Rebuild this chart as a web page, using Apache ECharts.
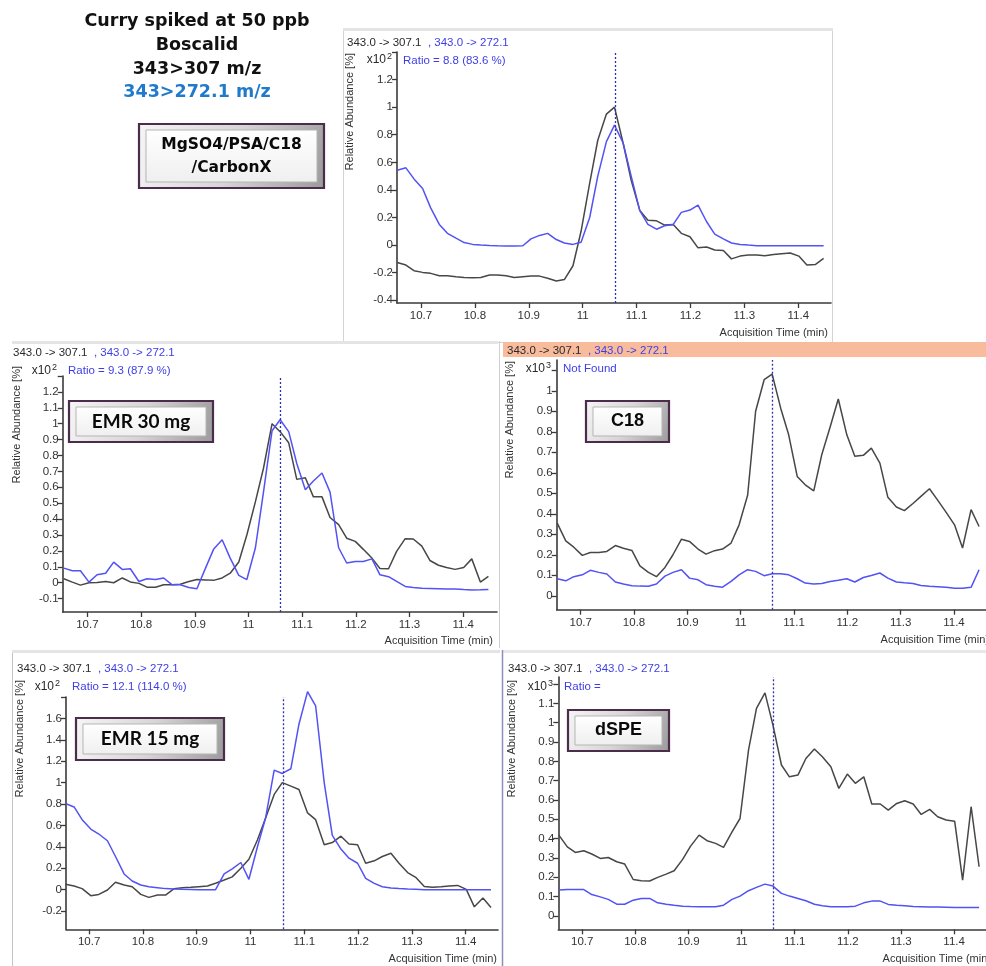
<!DOCTYPE html>
<html><head><meta charset="utf-8">
<script src="https://cdn.jsdelivr.net/npm/echarts@6/dist/echarts.min.js"></script>
<style>html,body{margin:0;padding:0;background:#fff}#c{width:986px;height:966px}</style>
</head><body><div id="c"></div>
<script>
// acquisition times (min)
const times = [10.656,10.672,10.687,10.703,10.718,10.734,10.749,10.765,10.780,10.796,10.811,10.827,10.842,10.858,10.873,10.889,10.904,10.920,10.935,10.951,10.966,10.982,10.997,11.013,11.028,11.044,11.059,11.075,11.090,11.106,11.121,11.137,11.152,11.168,11.183,11.199,11.214,11.230,11.245,11.261,11.276,11.292,11.307,11.323,11.338,11.354,11.369,11.385,11.401,11.416,11.432,11.447];

// MgSO4/PSA/C18/CarbonX (x10^2)
const topBlack = [-0.126,-0.145,-0.186,-0.198,-0.205,-0.222,-0.222,-0.229,-0.235,-0.237,-0.235,-0.217,-0.217,-0.222,-0.235,-0.229,-0.225,-0.225,-0.24,-0.26,-0.25,-0.15,0.10,0.45,0.76,0.95,1.0,0.74,0.47,0.25,0.18,0.176,0.145,0.15,0.085,0.06,-0.02,-0.014,-0.036,-0.039,-0.1,-0.08,-0.072,-0.072,-0.077,-0.068,-0.063,-0.058,-0.08,-0.145,-0.14,-0.097];
const topBlue = [0.543,0.56,0.48,0.41,0.27,0.15,0.085,0.05,0.018,0.005,0.0,-0.003,-0.005,-0.007,-0.007,-0.005,0.045,0.07,0.085,0.04,0.015,0.005,0.02,0.2,0.5,0.75,0.87,0.74,0.5,0.25,0.15,0.115,0.14,0.15,0.237,0.254,0.29,0.169,0.08,0.045,0.015,0.005,0.0,-0.005,-0.005,-0.005,-0.005,-0.005,-0.005,-0.005,-0.005,-0.005];

// EMR 30 mg (x10^2)
const emr30Black = [0.025,0.004,-0.015,0.0,0.002,0.008,0.0,0.03,0.005,-0.004,-0.028,-0.028,-0.013,-0.013,-0.01,0.008,0.02,0.018,0.015,0.03,0.06,0.13,0.30,0.51,0.72,1.0,0.95,0.88,0.65,0.66,0.54,0.54,0.41,0.365,0.28,0.26,0.21,0.155,0.09,0.088,0.197,0.277,0.275,0.23,0.14,0.11,0.096,0.084,0.096,0.15,0.004,0.04];
const emr30Blue = [0.092,0.075,0.075,0.004,0.05,0.06,0.13,0.084,0.088,0.008,0.025,0.02,0.03,-0.013,-0.013,-0.03,-0.038,0.092,0.21,0.27,0.155,0.046,0.02,0.22,0.57,0.956,1.025,0.95,0.75,0.585,0.64,0.69,0.57,0.22,0.124,0.134,0.134,0.15,0.05,0.038,0.008,-0.023,-0.03,-0.034,-0.036,-0.038,-0.04,-0.04,-0.043,-0.045,-0.044,-0.042];

// C18 (x10^3)
const c18Black = [0.354,0.268,0.237,0.197,0.211,0.211,0.216,0.245,0.232,0.221,0.146,0.114,0.093,0.138,0.2,0.276,0.265,0.228,0.203,0.22,0.228,0.257,0.346,0.49,0.9,1.054,1.081,0.915,0.785,0.582,0.541,0.512,0.688,0.826,0.96,0.785,0.68,0.685,0.72,0.647,0.48,0.433,0.415,0.45,0.485,0.522,0.468,0.408,0.346,0.233,0.42,0.338];
const c18Blue = [0.083,0.073,0.093,0.102,0.124,0.114,0.106,0.067,0.057,0.049,0.047,0.046,0.057,0.096,0.114,0.127,0.086,0.078,0.054,0.046,0.042,0.07,0.102,0.127,0.119,0.098,0.107,0.107,0.102,0.083,0.062,0.057,0.06,0.07,0.076,0.083,0.067,0.089,0.099,0.111,0.086,0.067,0.063,0.06,0.05,0.046,0.044,0.041,0.037,0.037,0.041,0.127];

// EMR 15 mg (x10^2)
const emr15Black = [0.05,0.034,0.01,-0.056,-0.044,-0.003,0.069,0.044,0.028,-0.044,-0.072,-0.05,-0.05,0.01,0.019,0.022,0.028,0.034,0.06,0.09,0.12,0.2,0.285,0.466,0.67,0.89,1.0,0.967,0.936,0.717,0.654,0.42,0.44,0.5,0.426,0.42,0.247,0.27,0.31,0.34,0.247,0.16,0.116,0.03,0.022,0.028,0.034,0.04,0.003,-0.16,-0.078,-0.166];
const emr15Blue = [0.805,0.773,0.654,0.566,0.52,0.457,0.31,0.147,0.081,0.044,0.028,0.019,0.01,0.006,0.003,0.002,0.0,0.0,0.0,0.147,0.194,0.254,0.097,0.404,0.67,1.117,1.086,1.13,1.546,1.85,1.718,0.998,0.507,0.379,0.294,0.247,0.106,0.059,0.028,0.016,0.01,0.006,0.003,0.0,0.0,0.0,0.0,0.0,0.0,0.0,0.0,0.0];

// dSPE (x10^3)
const dspeBlack = [0.418,0.357,0.328,0.337,0.32,0.297,0.302,0.28,0.268,0.188,0.181,0.18,0.199,0.216,0.233,0.292,0.361,0.418,0.389,0.375,0.354,0.435,0.504,0.858,1.074,1.155,0.988,0.781,0.72,0.729,0.815,0.864,0.824,0.772,0.66,0.734,0.686,0.72,0.579,0.579,0.547,0.582,0.596,0.579,0.525,0.551,0.513,0.496,0.49,0.185,0.565,0.254];
const dspeBlue = [0.133,0.136,0.136,0.136,0.11,0.098,0.085,0.06,0.06,0.081,0.09,0.09,0.067,0.06,0.055,0.05,0.048,0.047,0.047,0.047,0.055,0.085,0.102,0.13,0.147,0.164,0.154,0.116,0.102,0.09,0.078,0.06,0.052,0.047,0.047,0.047,0.05,0.067,0.076,0.076,0.059,0.055,0.052,0.048,0.047,0.046,0.045,0.044,0.043,0.043,0.043,0.043];

// tick values
const xTickValues = [10.7,10.8,10.9,11,11.1,11.2,11.3,11.4];
const topYTicks = [-0.4,-0.2,0,0.2,0.4,0.6,0.8,1,1.2,1.4];
const emr30YTicks = [-0.1,0,0.1,0.2,0.3,0.4,0.5,0.6,0.7,0.8,0.9,1,1.1,1.2,1.3];
const c18YTicks = [0,0.1,0.2,0.3,0.4,0.5,0.6,0.7,0.8,0.9,1,1.1];
const emr15YTicks = [-0.2,0,0.2,0.4,0.6,0.8,1,1.2,1.4,1.6,1.8];
const dspeYTicks = [0,0.1,0.2,0.3,0.4,0.5,0.6,0.7,0.8,0.9,1,1.1,1.2];
const retentionTime = 11.06;

const titleLines = ['Curry spiked at 50 ppb','Boscalid','343>307 m/z','343>272.1 m/z'];

const panels = [
  {black:topBlack, blue:topBlue, yTicks:topYTicks, grid:{left:397,top:52,width:434,height:251}, x:[10.6555,11.4607], y:[-0.42,1.4], exp:'2',
   expPos:[392,60], note:'Ratio = 8.8 (83.6 %)', notePos:[403,61], headPos:[347,42.5], yNamePos:[350,53], xNamePos:[828,333],
   box:{x:139,y:124,w:185,h:64,lines:['MgSO4/PSA/C18','/CarbonX'],font:'DejaVu Sans',size:15.5}},
  {black:emr30Black, blue:emr30Blue, yTicks:emr30YTicks, grid:{left:62.7,top:376,width:434.3,height:236}, x:[10.654,11.463], y:[-0.184,1.3], exp:'2',
   expPos:[57,371], note:'Ratio = 9.3 (87.9 %)', notePos:[68,371], headPos:[13,353], yNamePos:[17,366], xNamePos:[493,641],
   box:{x:69,y:401,w:144,h:41,lines:['EMR 30 mg'],font:'Lato',size:19}},
  {black:c18Black, blue:c18Blue, yTicks:c18YTicks, grid:{left:556.7,top:360,width:432,height:249.7}, x:[10.655,11.46], y:[-0.068,1.15], exp:'3',
   expPos:[551,369], note:'Not Found', notePos:[563,369], headPos:[507,350.5], yNamePos:[510,361], xNamePos:[989,640],
   box:{x:586,y:401,w:83,h:41,lines:['C18'],font:'Liberation Sans',size:18}},
  {black:emr15Black, blue:emr15Blue, yTicks:emr15YTicks, grid:{left:66,top:697,width:432,height:232.3}, x:[10.657,11.46], y:[-0.37,1.8], exp:'2',
   expPos:[60,687], note:'Ratio = 12.1 (114.0 %)', notePos:[72,687], headPos:[17,669], yNamePos:[20,680], xNamePos:[497,959],
   box:{x:76,y:718,w:148,h:42,lines:['EMR 15 mg'],font:'Lato',size:19}},
  {black:dspeBlack, blue:dspeBlue, yTicks:dspeYTicks, grid:{left:558.3,top:677,width:433.7,height:252.3}, x:[10.655,11.46], y:[-0.07,1.237], exp:'3',
   expPos:[553,687], note:'Ratio =', notePos:[564,687], headPos:[508,669], yNamePos:[512,680], xNamePos:[991,959],
   box:{x:568,y:710,w:101,h:41,lines:['dSPE'],font:'Liberation Sans',size:18}}
];

const FONT = 'Liberation Sans';
const BLACK = '#474747', BLUE = '#5252f5', BLUE_TXT = '#3e3ee6';
const fmt = v => String(parseFloat(Number(v).toFixed(3)));

const grids = [], xAxes = [], yAxes = [], series = [], graphics = [];

// panel frames
graphics.push({type:'rect', shape:{x:343.5,y:30.5,width:489,height:312}, style:{fill:'none',stroke:'#d4d4d4',lineWidth:1}});
graphics.push({type:'rect', shape:{x:343,y:28,width:490,height:3}, style:{fill:'#e4e4e4'}});
graphics.push({type:'rect', shape:{x:12,y:341,width:486,height:3}, style:{fill:'#e4e4e4'}});
graphics.push({type:'line', shape:{x1:499.5,y1:341,x2:499.5,y2:648}, style:{stroke:'#d0d0d0',lineWidth:1}});
graphics.push({type:'rect', shape:{x:503,y:342,width:483,height:15}, style:{fill:'#f8bb9c'}});
graphics.push({type:'rect', shape:{x:12,y:650,width:488,height:3}, style:{fill:'#e4e4e4'}});
graphics.push({type:'line', shape:{x1:12.5,y1:653,x2:12.5,y2:966}, style:{stroke:'#c4c4c4',lineWidth:1}});
graphics.push({type:'rect', shape:{x:502,y:650,width:484,height:3}, style:{fill:'#e8e8e8'}});
graphics.push({type:'line', shape:{x1:502.5,y1:650,x2:502.5,y2:966}, style:{stroke:'#8d8dc4',lineWidth:1.5}});

// title
titleLines.forEach((t,i)=>{
  graphics.push({type:'text', x:197, y:[21.5,45.5,69,92][i], z:50,
    style:{text:t, fill: i===3 ? '#1f7acb' : '#111', font:'bold 17.5px "DejaVu Sans"', align:'center', verticalAlign:'middle'}});
});

panels.forEach((p,i)=>{
  grids.push(Object.assign({containLabel:false}, p.grid));
  xAxes.push({type:'value', gridIndex:i, min:p.x[0], max:p.x[1],
    axisLine:{show:true, onZero:false, lineStyle:{color:'#3a3a3a', width:1.6}},
    axisTick:{show:true, length:5, customValues:xTickValues, lineStyle:{color:'#3a3a3a', width:1.3}},
    axisLabel:{customValues:xTickValues, formatter:fmt, color:'#333', fontFamily:FONT, fontSize:11.5, margin:7},
    splitLine:{show:false}});
  const labelVals = p.yTicks.slice(0, p.yTicks.length-1);
  yAxes.push({type:'value', gridIndex:i, min:p.y[0], max:p.y[1],
    axisLine:{show:true, onZero:false, lineStyle:{color:'#3a3a3a', width:1.6}},
    axisTick:{show:true, length:5, customValues:p.yTicks, lineStyle:{color:'#3a3a3a', width:1.3}},
    axisLabel:{customValues:labelVals, formatter:fmt, color:'#333', fontFamily:FONT, fontSize:11.5, margin:4},
    splitLine:{show:false}});
  const mk = arr => arr.map((v,k)=>[times[k], v]);
  series.push({type:'line', xAxisIndex:i, yAxisIndex:i, data:mk(p.black), symbol:'none', silent:true, clip:false,
    lineStyle:{color:BLACK, width:1.5}, itemStyle:{color:BLACK}, z:2,
    markLine:{silent:true, symbol:['none','none'], label:{show:false}, animation:false,
      lineStyle:{type:[2,2], color:'#3131a6', width:1.3}, data:[{xAxis:retentionTime}]}});
  series.push({type:'line', xAxisIndex:i, yAxisIndex:i, data:mk(p.blue), symbol:'none', silent:true, clip:false,
    lineStyle:{color:BLUE, width:1.5}, itemStyle:{color:BLUE}, z:3});

  // header
  graphics.push({type:'text', x:p.headPos[0], y:p.headPos[1], z:50,
    style:{text:'{k|343.0 -> 307.1}{b|  , 343.0 -> 272.1}', align:'left', verticalAlign:'middle',
      rich:{k:{fill:'#2a2a2a', font:'11.5px '+FONT}, b:{fill:BLUE_TXT, font:'11.5px '+FONT}}}});
  // exponent
  graphics.push({type:'text', x:p.expPos[0], y:p.expPos[1], z:50,
    style:{text:'{a|x10}{s|'+p.exp+'}', align:'right', verticalAlign:'middle',
      rich:{a:{fill:'#2a2a2a', font:'12px '+FONT}, s:{fill:'#2a2a2a', font:'9px '+FONT, verticalAlign:'top', padding:[0,0,6,1]}}}});
  // note
  graphics.push({type:'text', x:p.notePos[0], y:p.notePos[1], z:50,
    style:{text:p.note, fill:BLUE_TXT, font:'11.5px '+FONT, align:'left', verticalAlign:'middle'}});
  // y name
  graphics.push({type:'text', x:p.yNamePos[0], y:p.yNamePos[1], rotation:Math.PI/2, z:50,
    style:{text:'Relative Abundance [%]', fill:'#333', font:'11px '+FONT, align:'right', verticalAlign:'middle'}});
  // x name
  graphics.push({type:'text', x:p.xNamePos[0], y:p.xNamePos[1], z:50,
    style:{text:'Acquisition Time (min)', fill:'#333', font:'11px '+FONT, align:'right', verticalAlign:'middle'}});

  // label box
  const b = p.box;
  graphics.push({type:'rect', z:60, shape:{x:b.x,y:b.y,width:b.w,height:b.h},
    style:{stroke:'#4b2c4b', lineWidth:2.2,
      fill:new echarts.graphic.LinearGradient(0,0,1,1,[{offset:0,color:'#f6f6f6'},{offset:0.5,color:'#d6d6d6'},{offset:1,color:'#9a9a9a'}])}});
  graphics.push({type:'rect', z:61, shape:{x:b.x+7,y:b.y+6,width:b.w-14,height:b.h-12},
    style:{stroke:'#b5b5b5', lineWidth:1,
      fill:new echarts.graphic.LinearGradient(0,0,0,1,[{offset:0,color:'#ffffff'},{offset:1,color:'#efefef'}])}});
  const cy = b.y + b.h/2, n = b.lines.length;
  b.lines.forEach((t,k)=>{
    graphics.push({type:'text', z:62, x:b.x+b.w/2, y: cy + (k-(n-1)/2)*23,
      style:{text:t, fill:'#0a0a0a', font:'bold '+b.size+'px "'+b.font+'"', align:'center', verticalAlign:'middle'}});
  });
});

const chart = echarts.init(document.getElementById('c'), null, {renderer:'canvas'});
chart.setOption({animation:false, backgroundColor:'#ffffff', grid:grids, xAxis:xAxes, yAxis:yAxes, series:series, graphic:{elements:graphics}});
</script>
</body></html>
